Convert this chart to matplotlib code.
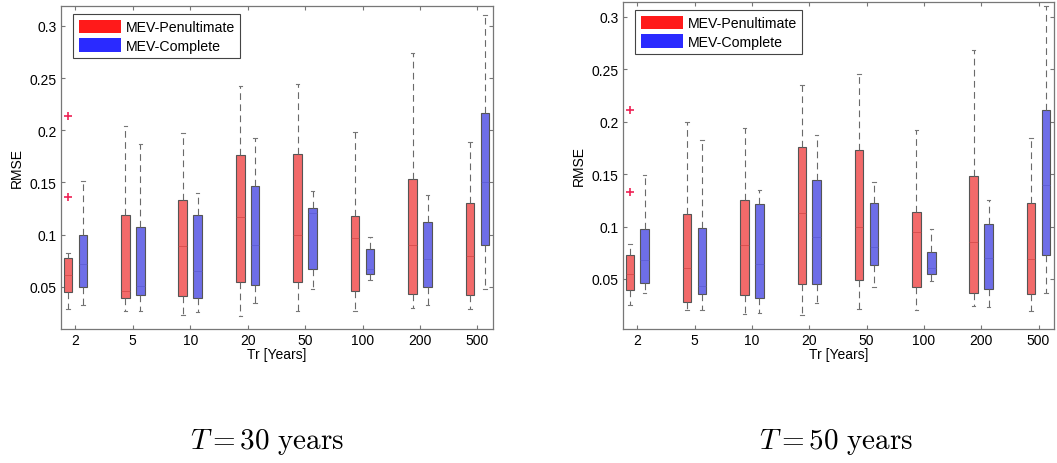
import matplotlib
matplotlib.use('Agg')
import matplotlib.pyplot as plt
from matplotlib.patches import Patch
import numpy as np

# data
tr_labels = ['2', '5', '10', '20', '50', '100', '200', '500']

# T = 30 years : [whislo, q1, med, q3, whishi]
pen30 = [[0.029, 0.045, 0.061, 0.078, 0.082],
         [0.027, 0.039, 0.046, 0.119, 0.204],
         [0.023, 0.041, 0.089, 0.133, 0.197],
         [0.022, 0.055, 0.117, 0.176, 0.242],
         [0.027, 0.055, 0.100, 0.177, 0.244],
         [0.027, 0.046, 0.097, 0.118, 0.198],
         [0.030, 0.043, 0.090, 0.153, 0.274],
         [0.029, 0.042, 0.080, 0.130, 0.189]]
com30 = [[0.033, 0.050, 0.072, 0.100, 0.151],
         [0.027, 0.042, 0.051, 0.107, 0.187],
         [0.026, 0.039, 0.065, 0.119, 0.140],
         [0.035, 0.052, 0.090, 0.147, 0.193],
         [0.048, 0.067, 0.121, 0.126, 0.142],
         [0.057, 0.062, 0.067, 0.086, 0.098],
         [0.033, 0.050, 0.077, 0.112, 0.138],
         [0.048, 0.090, 0.150, 0.217, 0.310]]
out30 = [0.214, 0.136]

# T = 50 years
pen50 = [[0.025, 0.039, 0.055, 0.073, 0.083],
         [0.020, 0.028, 0.060, 0.112, 0.200],
         [0.017, 0.035, 0.082, 0.125, 0.194],
         [0.016, 0.045, 0.113, 0.176, 0.235],
         [0.021, 0.049, 0.100, 0.173, 0.245],
         [0.020, 0.042, 0.095, 0.114, 0.192],
         [0.024, 0.037, 0.085, 0.148, 0.268],
         [0.019, 0.036, 0.069, 0.122, 0.184]]
com50 = [[0.037, 0.046, 0.068, 0.098, 0.149],
         [0.020, 0.036, 0.043, 0.099, 0.182],
         [0.018, 0.032, 0.064, 0.121, 0.135],
         [0.027, 0.045, 0.090, 0.144, 0.187],
         [0.042, 0.063, 0.080, 0.122, 0.142],
         [0.048, 0.055, 0.060, 0.076, 0.098],
         [0.023, 0.040, 0.070, 0.102, 0.125],
         [0.037, 0.073, 0.140, 0.211, 0.310]]
out50 = [0.211, 0.133]

captions = [r'$T = 30\ \mathrm{years}$', r'$T = 50\ \mathrm{years}$']

plt.rcParams['font.family'] = ['Liberation Sans', 'DejaVu Sans']
plt.rcParams['mathtext.fontset'] = 'cm'

red_fill = '#f26a6a'
blue_fill = '#6e6ee8'
edge = '#555555'


def stats(rows, outliers=None):
    res = []
    for i, r in enumerate(rows):
        d = dict(whislo=r[0], q1=r[1], med=r[2], q3=r[3], whishi=r[4], fliers=[])
        if outliers is not None and i == 0:
            d['fliers'] = outliers
        res.append(d)
    return res


def panel(ax, pen, com, outl, ylim):
    pos = np.arange(1, len(tr_labels) + 1)
    common = dict(widths=0.15, patch_artist=True, showfliers=True,
                  whiskerprops=dict(color='#6a6a6a', linestyle=(0, (6, 4)), lw=0.8),
                  capprops=dict(color='#777777', lw=0.8),
                  boxprops=dict(edgecolor=edge, lw=0.8))
    b1 = ax.bxp(stats(pen, outl), positions=pos - 0.13,
                medianprops=dict(color='#d04545', lw=0.7, alpha=0.7),
                flierprops=dict(marker='+', markeredgecolor='#ee2255', markersize=6, mew=1.2),
                **common)
    b2 = ax.bxp(stats(com), positions=pos + 0.13,
                medianprops=dict(color='#5a5ad0', lw=0.7, alpha=0.7), **common)
    for b in b1['boxes']:
        b.set_facecolor(red_fill)
    for b in b2['boxes']:
        b.set_facecolor(blue_fill)
    for c in b1['caps'] + b2['caps']:
        x = c.get_xdata()
        m = x.mean()
        c.set_xdata([m - 0.03, m + 0.03])
    ax.set_xticks(pos)
    ax.set_xticklabels(tr_labels)
    ax.set_xlim(0.75, 8.27)
    ax.set_ylim(*ylim)
    ax.set_yticks([0.05, 0.1, 0.15, 0.2, 0.25, 0.3])
    ax.set_yticklabels(['0.05', '0.1', '0.15', '0.2', '0.25', '0.3'])
    ax.tick_params(direction='in', top=True, right=True, labelsize=10,
                   length=3, color='#777777', pad=3)
    for s in ax.spines.values():
        s.set_color('#777777')
        s.set_linewidth(0.9)
    ax.set_xlabel('Tr [Years]', fontsize=10, labelpad=0)
    ax.set_ylabel('RMSE', fontsize=10, labelpad=4)
    handles = [Patch(facecolor='#ff1a1a', edgecolor='none', label='MEV-Penultimate'),
               Patch(facecolor='#2a2aff', edgecolor='none', label='MEV-Complete')]
    leg = ax.legend(handles=handles, loc='upper left', bbox_to_anchor=(0.028, 0.975),
                    borderaxespad=0, fontsize=10.2, handlelength=3.0, handleheight=1.1,
                    handletextpad=0.3, labelspacing=0.25, borderpad=0.4,
                    fancybox=False, framealpha=1)
    leg.get_frame().set_edgecolor('#444444')
    leg.get_frame().set_linewidth(0.8)


fig = plt.figure(figsize=(10.57, 4.64), dpi=100)
ax1 = fig.add_axes([61 / 1057, 1 - 330 / 464, 432 / 1057, 323 / 464])
ax2 = fig.add_axes([623 / 1057, 1 - 330 / 464, 431 / 1057, 327 / 464])

panel(ax1, pen30, com30, out30, (0.0097, 0.319))
panel(ax2, pen50, com50, out50, (0.0023, 0.314))

fig.text(267 / 1057, 1 - 442 / 464, captions[0], ha='center', va='center', fontsize=21)
fig.text(836 / 1057, 1 - 442 / 464, captions[1], ha='center', va='center', fontsize=21)

fig.savefig('out.png', dpi=100)
